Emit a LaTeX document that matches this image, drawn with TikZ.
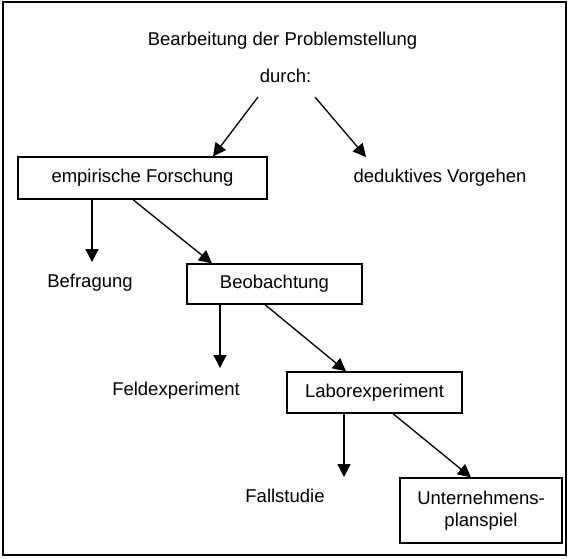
\documentclass[tikz,border=0pt]{standalone}
\usepackage{fontspec}
\setmainfont{Liberation Sans}
\usetikzlibrary{arrows.meta}
\begin{document}
\begin{tikzpicture}[x=1pt,y=-1pt,
  lbl/.style={anchor=base,inner sep=0pt,font=\fontsize{18.5}{22}\selectfont},
  box/.style={draw,line width=1.3pt,inner sep=0pt,text height=13pt,text depth=4pt,font=\fontsize{18.5}{22}\selectfont},
  box2l/.style={draw,line width=1.3pt,inner sep=0pt,align=center,font=\fontsize{18.5}{22}\selectfont},
  arr/.style={line width=1.3pt,-{Triangle[length=13pt,width=13pt]}},
]
\useasboundingbox (0,0) rectangle (569,558);
\draw[line width=1.4pt] (3,2) rectangle (566,555);
% texts
\node[lbl] (title) at (282.5,45) {Bearbeitung der Problemstellung};
\node[lbl] (durch) at (285.5,82) {durch:};
\node[lbl] (dedukt) at (440,182) {deduktives Vorgehen};
\node[lbl] (befr) at (90,287) {Befragung};
\node[lbl] (feld) at (176,395) {Feldexperiment};
\node[lbl] (fall) at (285,502) {Fallstudie};
% boxes
\node[box,minimum width=249pt,minimum height=42pt] (emp) at (142.5,178) {empirische Forschung};
\node[box,minimum width=175pt,minimum height=40pt] (beob) at (274.5,284) {Beobachtung};
\node[box,minimum width=175pt,minimum height=41pt] (labor) at (374.5,392.5) {Laborexperiment};
\node[box2l,minimum width=162pt,minimum height=65pt] (unter) at (481,510.5) {Unternehmens-\\planspiel};
% connector coordinates
\coordinate (sA) at (258,97);
\coordinate (sB) at (315,97);
\coordinate (tA) at (213,157);
\coordinate (tB) at (366,157);
\coordinate (tC) at (92,262);
\coordinate (sD) at (133,199);
\coordinate (tD) at (212,264);
\coordinate (tE) at (220,368);
\coordinate (sF) at (265,304);
\coordinate (tF) at (346,372);
\coordinate (tG) at (344,477);
\coordinate (sH) at (393,413);
\coordinate (tH) at (471,478);
% connectors
\draw[arr] (sA) -- (emp.north -| tA);
\draw[arr] (sB) -- (tB);
\draw[arr] (emp.south -| tC) -- (tC);
\draw[arr] (emp.south -| sD) -- (beob.north -| tD);
\draw[arr] (beob.south -| tE) -- (tE);
\draw[arr] (beob.south -| sF) -- (labor.north -| tF);
\draw[arr] (labor.south -| tG) -- (tG);
\draw[arr] (labor.south -| sH) -- (unter.north -| tH);
\end{tikzpicture}
\end{document}
